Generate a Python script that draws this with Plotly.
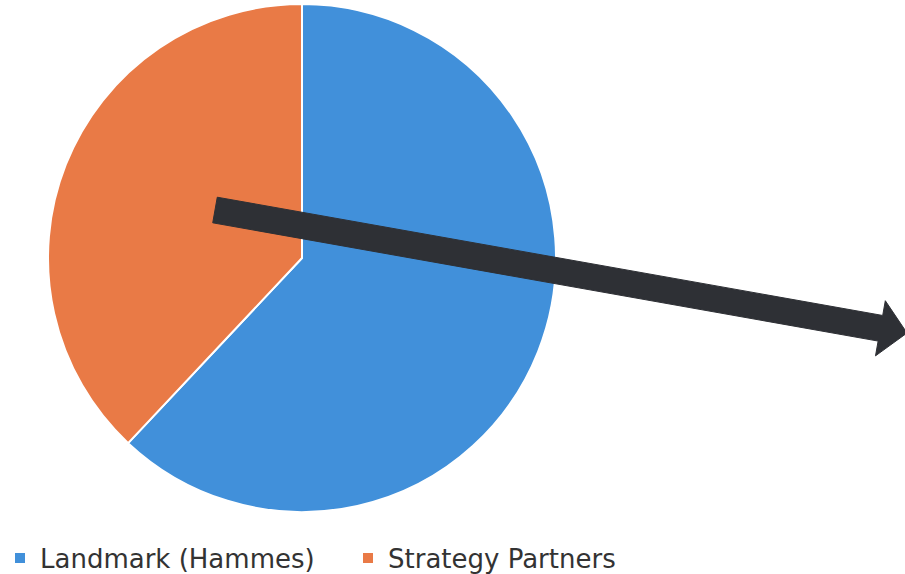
import math
import plotly.graph_objects as go

W, H = 905, 574

labels = ["Landmark (Hammes)", "Strategy Partners"]
values = [62, 38]
colors = ["#4190DA", "#E97A46"]

# decorative arrow (pixel geometry of the overlay)
arrow_start = (215, 210)
arrow_end = (907, 333)
shaft_half = 13
head_half = 28
head_len = 27


def to_paper(px, py):
    return px / W, 1 - py / H


fig = go.Figure()
fig.add_trace(go.Pie(
    labels=labels,
    values=values,
    marker=dict(colors=colors, line=dict(color="white", width=2)),
    sort=False,
    direction="clockwise",
    rotation=0,
    textinfo="none",
    hoverinfo="label+percent",
    domain=dict(x=[48 / W, 556 / W], y=[1 - 512 / H, 1 - 4 / H]),
))

# arrow polygon
sx, sy = arrow_start
ex, ey = arrow_end
L = math.hypot(ex - sx, ey - sy)
ux, uy = (ex - sx) / L, (ey - sy) / L
nx, ny = uy, -ux  # perpendicular (pointing up)
bx, by = ex - ux * head_len, ey - uy * head_len
pts = [
    (sx + nx * shaft_half, sy + ny * shaft_half),
    (bx + nx * shaft_half, by + ny * shaft_half),
    (bx + nx * head_half, by + ny * head_half),
    (ex, ey),
    (bx - nx * head_half, by - ny * head_half),
    (bx - nx * shaft_half, by - ny * shaft_half),
    (sx - nx * shaft_half, sy - ny * shaft_half),
]
path = "M " + " L ".join(f"{to_paper(x, y)[0]:.5f},{to_paper(x, y)[1]:.5f}" for x, y in pts) + " Z"
fig.add_shape(type="path", path=path, xref="paper", yref="paper",
              fillcolor="#2E3035", line=dict(color="#2E3035", width=1), layer="above")

fig.update_layout(
    width=W, height=H,
    margin=dict(l=0, r=0, t=0, b=0, autoexpand=False),
    paper_bgcolor="white",
    plot_bgcolor="white",
    showlegend=True,
    legend=dict(
        orientation="h",
        x=0, xanchor="left",
        y=1 - 558 / H, yanchor="middle",
        font=dict(family="DejaVu Sans, sans-serif", size=26, color="#333333"),
        entrywidth=303,
        itemwidth=30,
        bgcolor="rgba(0,0,0,0)",
    ),
)

fig.write_html("out.html")
